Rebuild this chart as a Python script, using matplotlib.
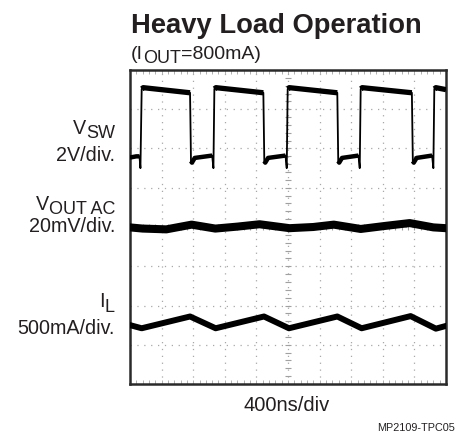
import numpy as np
import matplotlib
matplotlib.use('Agg')
import matplotlib.pyplot as plt

plt.rcParams['font.family'] = ['Liberation Sans', 'DejaVu Sans']

W, H = 457, 437

# scope traces, x in divisions (0..10), y in divisions (0..8 from bottom)
vsw_t = [0.00, 0.20, 0.30, 0.33, 0.37, 0.42, 1.90, 1.93, 1.96, 2.05, 2.60, 2.64,
         2.67, 2.72, 4.22, 4.25, 4.28, 4.37, 4.92, 4.96, 4.99, 5.04, 6.56, 6.59,
         6.62, 6.71, 7.23, 7.27, 7.30, 7.35, 8.92, 8.95, 8.98, 9.07, 9.56, 9.60,
         9.63, 9.68, 10.00]
vsw_v = [5.77, 5.80, 5.80, 5.50, 7.52, 7.55, 7.42, 5.68, 5.64, 5.76, 5.82, 5.50,
         7.52, 7.55, 7.42, 5.68, 5.64, 5.76, 5.82, 5.50, 7.52, 7.55, 7.42, 5.68,
         5.64, 5.76, 5.82, 5.50, 7.52, 7.55, 7.42, 5.68, 5.64, 5.76, 5.82, 5.50,
         7.52, 7.55, 7.50]

vout_t = [0.0, 0.4, 1.15, 1.95, 2.7, 3.4, 4.1, 5.05, 5.8, 6.45, 7.3, 8.1, 8.85, 9.6, 10.0]
vout_v = [3.99, 3.96, 3.94, 4.06, 3.96, 4.01, 4.07, 3.97, 4.00, 4.06, 3.95, 4.03, 4.10, 3.99, 3.97]

il_t = [0.0, 0.37, 1.90, 2.71, 4.24, 5.03, 6.56, 7.33, 8.88, 9.68, 10.0]
il_v = [1.50, 1.42, 1.72, 1.42, 1.72, 1.42, 1.72, 1.42, 1.73, 1.41, 1.48]

TXT = '#231f20'

fig = plt.figure(figsize=(W / 100, H / 100), dpi=100)
ax = fig.add_axes([130 / W, (H - 384) / H, 316 / W, 314 / H])
ax.set_xlim(0, 10)
ax.set_ylim(0, 8)
ax.set_xticks([])
ax.set_yticks([])
for s in ax.spines.values():
    s.set_linewidth(1.8)
    s.set_color('#2a2a2a')

# dotted graticule
for gx in range(1, 10):
    ax.axvline(gx, color='#a8a8a8', lw=0.9, ls=(0, (1, 4.5)), zorder=1)
for gy in range(1, 8):
    ax.axhline(gy, color='#a8a8a8', lw=0.9, ls=(0, (1, 4.5)), zorder=1)
minor_x = np.arange(0.2, 10, 0.2)
minor_y = np.arange(0.2, 8, 0.2)
ax.plot(minor_x, np.full_like(minor_x, 4), ls='none', marker='|', ms=4,
        mew=0.8, color='#a0a0a0', zorder=1)
ax.plot(np.full_like(minor_y, 5), minor_y, ls='none', marker='_', ms=4,
        mew=0.8, color='#a0a0a0', zorder=1)
# small ticks along the frame
ax.plot(minor_x, np.full_like(minor_x, 7.95), ls='none', marker='|', ms=3,
        mew=0.7, color='#b0b0b0', zorder=1)
ax.plot(minor_x, np.full_like(minor_x, 0.05), ls='none', marker='|', ms=3,
        mew=0.7, color='#b0b0b0', zorder=1)

# traces
t = np.array(vsw_t)
v = np.array(vsw_v)
ax.plot(t, v, color='black', lw=1.3, zorder=3)
ax.plot(t, np.where(v > 7, v, np.nan), color='black', lw=3.8,
        solid_capstyle='butt', zorder=3)
ax.plot(t, np.where((v > 5.6) & (v < 6.5), v, np.nan), color='black', lw=3.2,
        solid_capstyle='butt', zorder=3)
ax.plot(vout_t, vout_v, color='black', lw=5.8, zorder=3)
ax.plot(il_t, il_v, color='black', lw=4.3, zorder=3)


def px(x, y):
    return x / W, 1 - y / H


fig.canvas.draw()
r = fig.canvas.get_renderer()


def width_px(txt):
    return txt.get_window_extent(renderer=r).width


# title and subtitle
fig.text(*px(131, 33.3), 'Heavy Load Operation', fontsize=19.7,
         fontweight='bold', color=TXT, va='baseline', ha='left')
t1 = fig.text(*px(131, 59.3), '(I', fontsize=14, color=TXT,
              va='baseline', ha='left')
x = 131 + width_px(t1)
t2 = fig.text(*px(x, 63), 'OUT', fontsize=13, color=TXT,
              va='baseline', ha='left')
x += width_px(t2)
fig.text(*px(x, 59.3), '=800mA)', fontsize=14, color=TXT,
         va='baseline', ha='left')


def sub_label(main, sub, y_main, y_sub, right=115):
    s = fig.text(*px(right, y_sub), sub, fontsize=13, color=TXT,
                 va='baseline', ha='right')
    xr = right - width_px(s)
    fig.text(*px(xr, y_main), main, fontsize=14.2, color=TXT,
             va='baseline', ha='right')


sub_label('V', 'SW', 134, 138)
fig.text(*px(115, 161), '2V/div.', fontsize=14.2, color=TXT,
         va='baseline', ha='right')
sub_label('V', 'OUT AC', 210, 214.5)
fig.text(*px(115, 232), '20mV/div.', fontsize=14.2, color=TXT,
         va='baseline', ha='right')
sub_label('I', 'L', 307, 311.7)
fig.text(*px(115, 333.5), '500mA/div.', fontsize=14.2, color=TXT,
         va='baseline', ha='right')

fig.text(*px(287, 410.7), '400ns/div', fontsize=14.5, color=TXT,
         va='baseline', ha='center')
fig.text(*px(455, 431), 'MP2109-TPC05', fontsize=7.8, color=TXT,
         va='baseline', ha='right')

fig.savefig('out.png', dpi=100)
